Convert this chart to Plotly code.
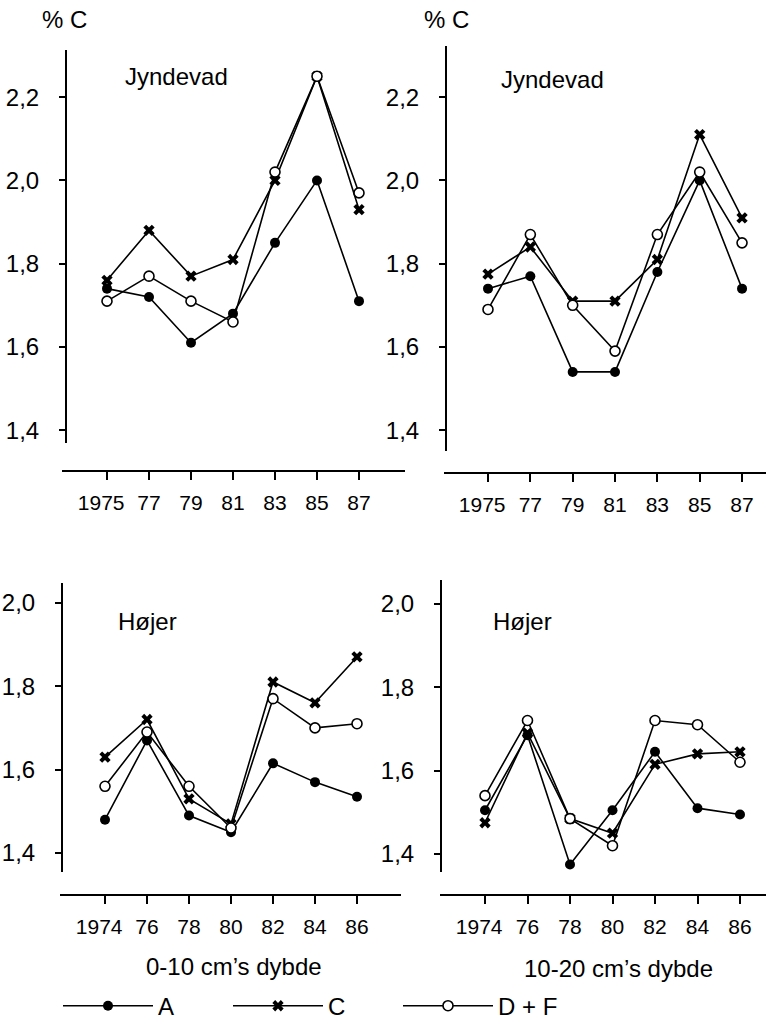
import plotly.graph_objects as go

W, H = 766, 1029

# ---------------- data ----------------
years_top = [1975, 1977, 1979, 1981, 1983, 1985, 1987]
years_bottom = [1974, 1976, 1978, 1980, 1982, 1984, 1986]

tick_text_top = ["1975\u2007", "77", "79", "81", "83", "85", "87"]
tick_text_bottom = ["1974\u2007", "76", "78", "80", "82", "84", "86"]

y_vals_top = [1.4, 1.6, 1.8, 2.0, 2.2]
y_text_top = ["1,4", "1,6", "1,8", "2,0", "2,2"]
y_vals_bottom = [1.4, 1.6, 1.8, 2.0]
y_text_bottom = ["1,4", "1,6", "1,8", "2,0"]

series_names = ["A", "C", "D + F"]

# Jyndevad, 0-10 cm
jyn_0_10_A = [1.74, 1.72, 1.61, 1.68, 1.85, 2.00, 1.71]
jyn_0_10_C = [1.76, 1.88, 1.77, 1.81, 2.00, 2.25, 1.93]
jyn_0_10_DF = [1.71, 1.77, 1.71, 1.66, 2.02, 2.25, 1.97]

# Jyndevad, 10-20 cm
jyn_10_20_A = [1.74, 1.77, 1.54, 1.54, 1.78, 2.00, 1.74]
jyn_10_20_C = [1.775, 1.84, 1.71, 1.71, 1.81, 2.11, 1.91]
jyn_10_20_DF = [1.69, 1.87, 1.70, 1.59, 1.87, 2.02, 1.85]

# Højer, 0-10 cm
hoj_0_10_A = [1.48, 1.67, 1.49, 1.45, 1.615, 1.57, 1.535]
hoj_0_10_C = [1.63, 1.72, 1.53, 1.47, 1.81, 1.76, 1.87]
hoj_0_10_DF = [1.56, 1.69, 1.56, 1.46, 1.77, 1.70, 1.71]

# Højer, 10-20 cm
hoj_10_20_A = [1.505, 1.685, 1.375, 1.505, 1.645, 1.51, 1.495]
hoj_10_20_C = [1.475, 1.69, 1.485, 1.45, 1.615, 1.64, 1.645]
hoj_10_20_DF = [1.54, 1.72, 1.485, 1.42, 1.72, 1.71, 1.62]

# ---------------- styling ----------------
FONT = "Liberation Sans, Arial, Helvetica, sans-serif"
FS = 24
FS_X = 21
LW = 1.6

marker_styles = {
    "A": dict(symbol="circle", size=10, color="black", line=dict(width=0)),
    "C": dict(symbol="x", size=10, color="black", line=dict(width=0)),
    "D + F": dict(symbol="circle", size=10, color="white", line=dict(width=1.6, color="black")),
}


def px_x(px):
    return px / W


def px_y(py):
    return 1 - py / H


fig = go.Figure()

panels = [
    (years_top, [jyn_0_10_A, jyn_0_10_C, jyn_0_10_DF], "x", "y", True),
    (years_top, [jyn_10_20_A, jyn_10_20_C, jyn_10_20_DF], "x2", "y2", False),
    (years_bottom, [hoj_0_10_A, hoj_0_10_C, hoj_0_10_DF], "x3", "y3", False),
    (years_bottom, [hoj_10_20_A, hoj_10_20_C, hoj_10_20_DF], "x4", "y4", False),
]

for years, datasets, xa, ya, show in panels:
    for name, vals in zip(series_names, datasets):
        fig.add_trace(go.Scatter(
            x=years, y=vals, name=name, mode="lines+markers",
            line=dict(color="black", width=LW),
            marker=marker_styles[name],
            xaxis=xa, yaxis=ya, showlegend=show, cliponaxis=False,
        ))


def yr(px, px0, yr0, pxper):
    return yr0 + (px - px0) / pxper


def vy(py, py0, v0, pxper):
    return v0 - (py - py0) / pxper


axis_common = dict(
    showgrid=False, zeroline=False, showline=True, linecolor="black",
    ticks="outside", tickcolor="black",
)

layout = dict(
    width=W, height=H, autosize=False,
    margin=dict(l=0, r=0, t=0, b=0),
    paper_bgcolor="white", plot_bgcolor="rgba(0,0,0,0)",
    font=dict(family=FONT, size=FS, color="black"),
)

cfg = [
    ("", (62, 405), (107, 1975, 21.0), 475, 66, (50, 447), (98, 2.2, 420), years_top, tick_text_top, y_vals_top, y_text_top),
    ("2", (444, 766), (488, 1975, 21.17), 477, 446, (46, 455), (98, 2.2, 420), years_top, tick_text_top, y_vals_top, y_text_top),
    ("3", (60, 401), (105, 1974, 21.0), 903, 62, (588, 880), (608, 2.0, 421), years_bottom, tick_text_bottom, y_vals_bottom, y_text_bottom),
    ("4", (440, 766), (485, 1974, 21.25), 903, 441, (585, 880), (609, 2.0, 421), years_bottom, tick_text_bottom, y_vals_bottom, y_text_bottom),
]

for key, xd, xc, xline, yax, yd, yc, xt, xtt, yt, ytt in cfg:
    layout["xaxis" + key] = dict(
        axis_common,
        domain=[px_x(xd[0]), px_x(xd[1])],
        range=[yr(xd[0], *xc), yr(xd[1], *xc)],
        anchor="free", position=px_y(xline),
        tickmode="array", tickvals=xt, ticktext=xtt, tickangle=0,
        tickfont=dict(family=FONT, size=FS_X, color="black"),
        ticklen=8, tickwidth=1.6, linewidth=2.2, ticklabelstandoff=5,
    )
    layout["yaxis" + key] = dict(
        axis_common,
        domain=[px_y(yd[1]), px_y(yd[0])],
        range=[vy(yd[1], *yc), vy(yd[0], *yc)],
        anchor="free", position=px_x(yax),
        tickmode="array", tickvals=yt, ticktext=ytt,
        tickfont=dict(family=FONT, size=FS, color="black"),
        ticklen=6, tickwidth=1.6, linewidth=2.0, ticklabelstandoff=15,
    )

annotations = []


def ann(text, x, y, xanchor="left", size=FS):
    annotations.append(dict(
        text=text, x=px_x(x), y=px_y(y), xref="paper", yref="paper",
        xanchor=xanchor, yanchor="middle", showarrow=False,
        font=dict(family=FONT, size=size, color="black"),
    ))


ann("% C", 64, 20, "center")
ann("% C", 446, 20, "center")
ann("Jyndevad", 123, 77)
ann("Jyndevad", 499, 80)
ann("Højer", 116, 627)
ann("Højer", 491, 627)
ann("0-10 cm\u2019s dybde", 234, 975, "center")
ann("10-20 cm\u2019s dybde", 618, 977, "center")

layout["annotations"] = annotations
layout["legend"] = dict(
    orientation="h", x=px_x(58), y=px_y(1015), xanchor="left", yanchor="middle",
    font=dict(family=FONT, size=FS, color="black"),
    bgcolor="rgba(0,0,0,0)", itemwidth=90, tracegroupgap=0,
    entrywidth=65, entrywidthmode="pixels",
)

fig.update_layout(**layout)
fig.write_html("out.html")
